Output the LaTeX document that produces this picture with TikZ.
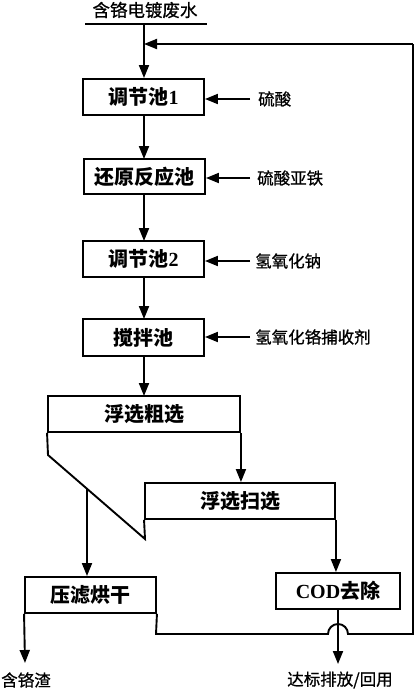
\documentclass[tikz,border=0pt]{standalone}
\usepackage{fontspec}
\newfontfamily\cjk{Noto Sans CJK SC}
\newfontfamily\cjkm[FakeBold=0.8]{Noto Sans CJK SC}
\newfontfamily\tnr{Liberation Serif}
\usetikzlibrary{arrows.meta}
\tikzset{
  box/.style={draw, line width=1.9pt, rectangle, inner sep=0pt, font=\cjk\bfseries\fontsize{20}{22}\selectfont},
  lbl/.style={inner sep=0pt, font=\cjkm\fontsize{16.5}{18}\selectfont},
  ln/.style={line width=1.9pt},
  arr/.style={line width=1.9pt, -{Triangle[length=13pt,width=10pt]}},
}
\begin{document}
\begin{tikzpicture}[x=1pt,y=-1pt]
\useasboundingbox (0,0) rectangle (417,691);
% title
\node[lbl, font=\cjkm\fontsize{17.5}{19}\selectfont] (title) at (145,10) {含铬电镀废水};
\coordinate (tl) at (85,24);
\coordinate (tr) at (207,24);
\coordinate (tm) at (144,24);
\draw[line width=2.3pt] (tl) -- (tr);
% boxes
\node[box, minimum width=121pt, minimum height=36pt] (b1) at (143.5,97) {调节池{\tnr 1}};
\node[box, minimum width=121pt, minimum height=35pt] (b2) at (144.5,176.5) {还原反应池};
\node[box, minimum width=121pt, minimum height=36pt] (b3) at (143.5,259) {调节池{\tnr 2}};
\node[box, minimum width=121pt, minimum height=37pt] (b4) at (143.5,337.5) {搅拌池};
\node[box, minimum width=192pt, minimum height=36pt] (b5) at (144,414) {浮选粗选};
\node[box, minimum width=190pt, minimum height=36pt] (b6) at (240,501) {浮选扫选};
\node[box, minimum width=131pt, minimum height=36pt] (b7) at (90.5,595) {压滤烘干};
\node[box, minimum width=124pt, minimum height=36pt] (b8) at (338,591) {{\tnr COD}去除};
% reagent labels
\node[lbl, anchor=west] (r1) at (258,99) {硫酸};
\node[lbl, anchor=west] (r2) at (257,178) {硫酸亚铁};
\node[lbl, anchor=west] (r3) at (255,261) {氢氧化钠};
\node[lbl, anchor=west] (r4) at (255,337) {氢氧化铬捕收剂};
\node[lbl] (o1) at (26,680) {含铬渣};
\node[lbl] (o2) at (340,680) {达标排放/回用};
% main flow
\draw[arr] (tm) -- (tm |- b1.north);
\draw[arr] (144,115) -- (144,159);
\draw[arr] (144,194.5) -- (144,241);
\draw[arr] (144,277) -- (144,319);
\draw[arr] (144,356) -- (144,396);
% reagent arrows
\draw[arr] (250,99) -- (b1.east |- 0,99);
\draw[arr] (250,178) -- (b2.east |- 0,178);
\draw[arr] (250,261) -- (b3.east |- 0,261);
\draw[arr] (250,337) -- (b4.east |- 0,337);
% hopper
\coordinate (h1) at (48,455);
\coordinate (h2) at (145,539);
\draw[ln] (b5.south west) -- (h1) -- (h2) -- (b6.south west);
\coordinate (hd) at (87,488.8);
\draw[arr] (hd) -- (hd |- b7.north);
\draw[arr] (b5.south east) -- (b5.south east |- b6.north);
\draw[arr] (b6.south east) -- (b6.south east |- b8.north);
% outputs
\draw[arr] (b7.south west) -- (25,663);
\draw[arr] (b8.south) -- (338,664);
% recycle
\coordinate (f1) at (156,634);
\coordinate (f2) at (413,634);
\coordinate (f3) at (413,44);
\coordinate (f4) at (144,44);
\draw[ln] (b7.south east) -- (f1) -- (328,634) arc[start angle=180, end angle=0, radius=10pt] -- (f2) -- (f3);
\draw[arr] (f3) -- (f4);
\end{tikzpicture}
\end{document}
